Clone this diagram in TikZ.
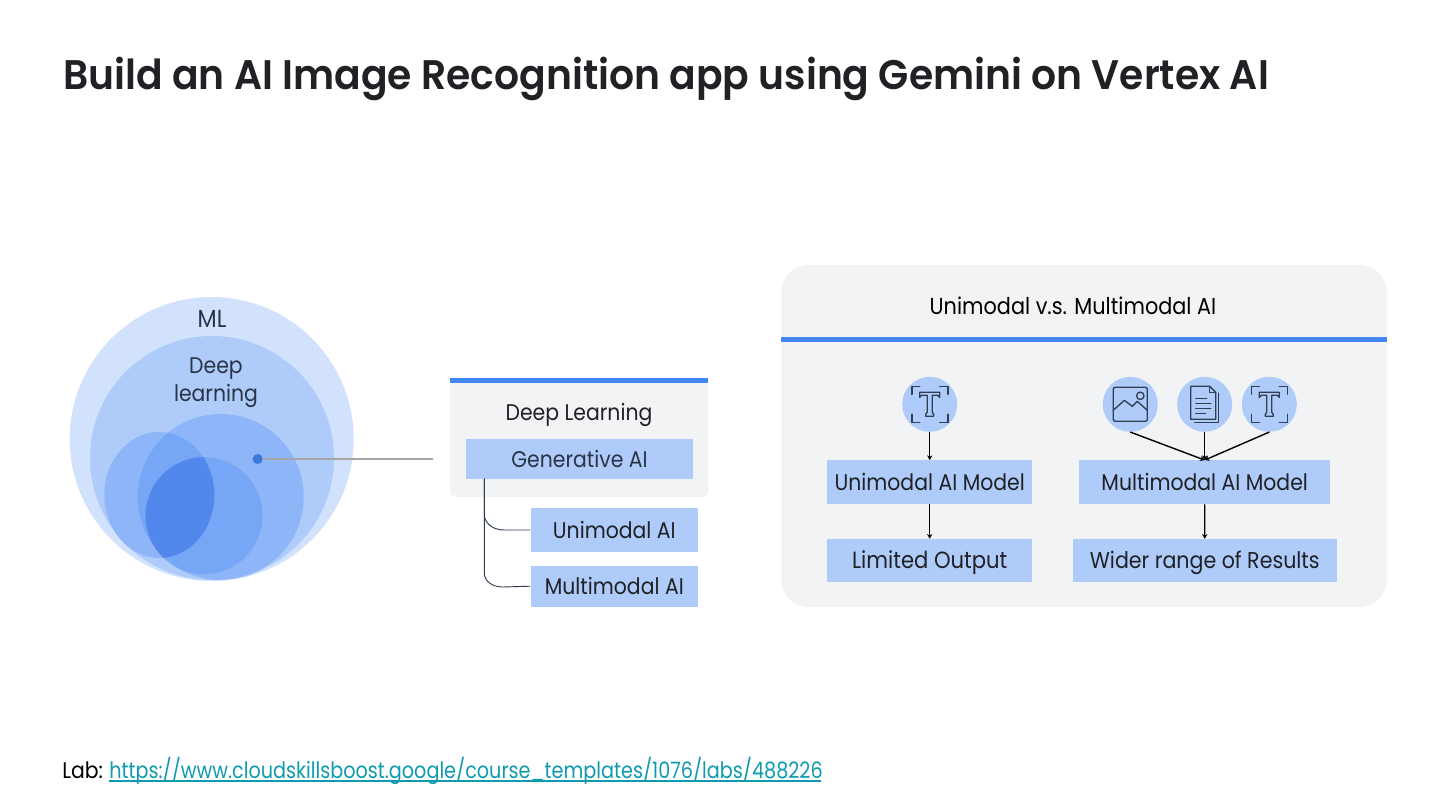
\documentclass[tikz,border=0pt]{standalone}
\usepackage{fontspec}
\setmainfont[FakeStretch=0.9,BoldFont={Poppins SemiBold}]{Poppins}
\newfontfamily\titlefont[FakeStretch=0.95]{Poppins SemiBold}
\newfontfamily\urlfont[FakeStretch=0.85]{Poppins}
\usetikzlibrary{arrows.meta}
\definecolor{ink}{HTML}{202124}
\definecolor{navy}{HTML}{2A3446}
\definecolor{panel}{HTML}{F1F3F4}
\definecolor{gblue}{HTML}{4285F4}
\definecolor{deepblue}{HTML}{3B6FE0}
\definecolor{boxblue}{HTML}{AECBFA}
\definecolor{iconink}{HTML}{323E54}
\definecolor{link}{HTML}{0F9BAE}
\newcommand{\px}[1]{\fontsize{#1}{#1}\selectfont}
\tikzset{
  x=0.75pt,y=-0.75pt,
  lblraw/.style={inner sep=0pt,text=ink,font=\px{17}},
  lbl/.style={lblraw,text height=12pt,text depth=0pt},
  bluebox/.style={lbl,fill=boxblue},
  iconbg/.style={circle,fill=boxblue,inner sep=0pt,minimum size=41.25pt},
  blob/.style={fill=gblue,opacity=0.3},
  treeline/.style={draw=iconink,line width=0.7pt},
  flow/.style={draw=black,line width=1.05pt,-{Stealth[length=3.5pt,width=4pt]}},
  iconline/.style={draw=iconink,line width=1pt,line cap=round,line join=round},
  ticon/.pic={
    \draw[iconline,line width=1.2pt] (-18,-10)--(-18,-18)--(-10,-18) (10,-18)--(18,-18)--(18,-10)
      (18,10)--(18,18)--(10,18) (-10,18)--(-18,18)--(-18,10);
    \draw[iconline] (-10,-7)--(-10,-12)--(10,-12)--(10,-7)--(8,-9)--(2.5,-9)--(2.5,8)--(4,10)--(4,12)--(-4,12)--(-4,10)--(-2.5,8)--(-2.5,-9)--(-8,-9)--cycle;
  },
  imgicon/.pic={
    \draw[iconline,rounded corners=1.5pt] (-17,-17) rectangle (17,17);
    \draw[iconline] (10,-8.5) circle (3.7);
    \draw[iconline] (-17,6)--(-6,-4)--(2,2)--(7,-3)--(17,6);
  },
  docicon/.pic={
    \draw[iconline] (-14,15)--(-14,-18)--(5,-18)--(11,-12)--(11,15)--cycle;
    \draw[iconline] (5,-18)--(5,-12)--(11,-12);
    \draw[iconline] (14,-11)--(14,18)--(-10,18);
    \draw[iconline] (-9,-6)--(2,-6) (-9,-1)--(6,-1) (-9,4)--(6,4) (-9,9)--(1,9);
  }
}
\begin{document}
\begin{tikzpicture}
\useasboundingbox (0,0) rectangle (1440,810);
\fill[white] (0,0) rectangle (1440,810);
% title and footer
\node[anchor=base west,inner sep=0pt,text=ink,font=\titlefont\px{31}] (title) at (63,89) {Build an AI Image Recognition app using Gemini on Vertex AI};
\node[anchor=base west,inner sep=0pt,text=black,font=\px{17}] (lab) at (62,778) {Lab:};
\node[anchor=base west,inner sep=0pt,text=link,font=\urlfont\px{16.95}] (url) at (109,778) {https://www.cloudskillsboost.google/course\_templates/1076/labs/488226};
\draw[link,line width=0.8pt] (109,781)--(821,781);
% Venn
\fill[fill=boxblue!55!white] (211.7,439) circle (142);
\fill[fill=boxblue] (212,458) circle (122);
\fill[blob] (220.7,497) circle (83);
\fill[blob] (159.3,495) ellipse (55 and 63);
\fill[blob] (204,515.7) circle (58.5);
\begin{scope}
  \clip (159.3,495) ellipse (55 and 63);
  \fill[fill=deepblue,opacity=0.45] (204,515.7) circle (58.5);
\end{scope}
\node[lbl,text=navy,font=\px{18.5}] (ml) at (212,319) {ML};
\node[lblraw,text=navy,align=center] (dl) at (216,382.5) {Deep\\[2.2pt]learning};
\node[circle,fill=gblue!90!black,inner sep=0pt,minimum size=7.5pt] (dot) at (257.7,459) {};
\coordinate (lineend) at (433,459);
\draw[draw=gray!70,line width=1pt] (dot) -- (lineend);
% middle panel
\fill[panel,rounded corners=4pt] (450,380) rectangle (708,497);
\fill[gblue] (450,377.6) rectangle (708,382.6);
\node[lbl,text=ink] (deepl) at (579,412) {Deep Learning};
\node[bluebox,text=navy,minimum width=170.25pt,minimum height=29.8pt] (gen) at (579.5,459) {Generative AI};
\node[bluebox,minimum width=125.5pt,minimum height=33pt] (uni) at (614.3,530) {Unimodal AI};
\node[bluebox,minimum width=125.5pt,minimum height=30.8pt] (multi) at (614.3,586.2) {Multimodal AI};
\coordinate (treetop) at (484.3,478.7);
\draw[treeline] (treetop) -- (484.3,516) .. controls (486,525) and (494,530) .. (505,530) -- (uni.west);
\draw[treeline] (treetop) -- (484.3,573) .. controls (484.3,581) and (492,587) .. (503,587) -- (multi.west);
% right panel
\fill[panel,rounded corners=21pt] (781,265) rectangle (1387,607);
\fill[gblue] (781,337) rectangle (1387,342);
\node[lbl,text=black,font=\px{17.35}] (head) at (1073,306.5) {Unimodal v.s. Multimodal AI};
\node[iconbg] (t1) at (929.7,404.3) {};
\pic at (t1) {ticon};
\node[bluebox,minimum width=153.5pt,minimum height=32.8pt] (um) at (929.7,482.2) {Unimodal AI Model};
\node[bluebox,font=\px{17.6},minimum width=153.5pt,minimum height=32.5pt] (lo) at (929.7,560.7) {Limited Output};
\draw[flow] (t1) -- (um);
\draw[flow] (um) -- (lo);
\node[iconbg] (img) at (1130.3,404.3) {};
\node[iconbg] (doc) at (1204.7,404.3) {};
\node[iconbg] (t2) at (1269.3,404.3) {};
\pic at (img) {imgicon};
\pic at (doc) {docicon};
\pic at (t2) {ticon};
\node[bluebox,minimum width=188.5pt,minimum height=32.8pt] (mm) at (1204.7,482.2) {Multimodal AI Model};
\node[bluebox,font=\px{17.15},minimum width=198.2pt,minimum height=32.5pt] (wr) at (1204.8,560.7) {Wider range of Results};
\draw[flow] (img.south) -- (mm.north);
\draw[flow] (doc.south) -- (mm.north);
\draw[flow] (t2.south) -- (mm.north);
\draw[flow] (mm) -- (wr);
\end{tikzpicture}
\end{document}
